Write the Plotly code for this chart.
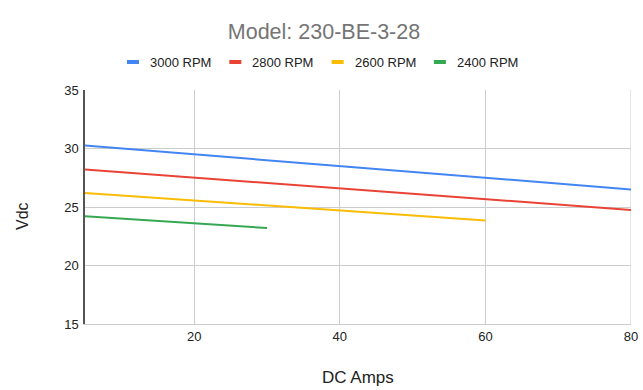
import plotly.graph_objects as go

series_names = ["3000 RPM", "2800 RPM", "2600 RPM", "2400 RPM"]
amps_3000 = [5, 80]
vdc_3000 = [30.25, 26.5]
amps_2800 = [5, 80]
vdc_2800 = [28.2, 24.75]
amps_2600 = [5, 60]
vdc_2600 = [26.2, 23.85]
amps_2400 = [5, 30]
vdc_2400 = [24.2, 23.2]
colors = ["#4285F4", "#EA4335", "#FBBC04", "#34A853"]
x_ticks = [20, 40, 60, 80]
y_ticks = [15, 20, 25, 30, 35]

xs = [amps_3000, amps_2800, amps_2600, amps_2400]
ys = [vdc_3000, vdc_2800, vdc_2600, vdc_2400]

W, H = 643, 390
ML, MR, MT, MB = 85, 12, 90, 66
PW = W - ML - MR
PH = H - MT - MB


def px_x(px):
    return (px - ML) / PW


def px_y(py):
    return (H - MB - py) / PH


fig = go.Figure()
for name, x, y, c in zip(series_names, xs, ys, colors):
    fig.add_trace(go.Scatter(x=x, y=y, mode="lines", name=name, showlegend=False,
                             line=dict(color=c, width=2)))

font = "Arial, Liberation Sans, sans-serif"

# custom legend (symbol + label) laid out like the reference
leg_x0, leg_step, leg_y = 127, 102.3, 62
for i, (name, c) in enumerate(zip(series_names, colors)):
    sx = leg_x0 + i * leg_step
    fig.add_shape(type="line", xref="paper", yref="paper",
                  x0=px_x(sx), x1=px_x(sx + 12), y0=px_y(leg_y), y1=px_y(leg_y),
                  line=dict(color=c, width=4))
    fig.add_annotation(xref="paper", yref="paper", x=px_x(sx + 21), y=px_y(leg_y),
                       text=name, showarrow=False, xanchor="left", yanchor="middle",
                       font=dict(family=font, size=13, color="#222222"))

# axis titles
fig.add_annotation(xref="paper", yref="paper", x=px_x(358), y=px_y(377), text="DC Amps",
                   showarrow=False, xanchor="center", yanchor="middle",
                   font=dict(family=font, size=17, color="#222222"))
fig.add_annotation(xref="paper", yref="paper", x=px_x(22), y=px_y(216), text="Vdc",
                   showarrow=False, xanchor="center", yanchor="middle", textangle=-90,
                   font=dict(family=font, size=16, color="#222222"))

fig.update_layout(
    width=W, height=H,
    margin=dict(l=ML, r=MR, t=MT, b=MB),
    paper_bgcolor="white", plot_bgcolor="white",
    font=dict(family=font, size=13, color="#444444"),
    title=dict(text="Model: 230-BE-3-28", x=324 / W, xanchor="center", y=1 - 31 / H,
               yanchor="middle", font=dict(family=font, size=21.5, color="#757575")),
    showlegend=False,
    xaxis=dict(range=[5, 80], tickvals=x_ticks, showgrid=True, gridcolor="#CCCCCC",
               gridwidth=1, zeroline=False, showline=True, linecolor="#CCCCCC", linewidth=1,
               mirror=False, ticks="", automargin=False,
               tickfont=dict(family=font, size=13, color="#222222")),
    yaxis=dict(range=[15, 35], tickvals=y_ticks, showgrid=True, gridcolor="#CCCCCC",
               gridwidth=1, zeroline=False, showline=True, linecolor="#555555", linewidth=1.5,
               ticks="", automargin=False, ticklabelstandoff=2,
               tickfont=dict(family=font, size=13, color="#222222")),
)
fig.add_shape(type="line", xref="x", yref="paper", x0=80, x1=80, y0=0, y1=1,
              line=dict(color="#CCCCCC", width=1), layer="below")

fig.write_html("out.html", config={"displayModeBar": False},
               post_script="document.body.style.margin='0';")
